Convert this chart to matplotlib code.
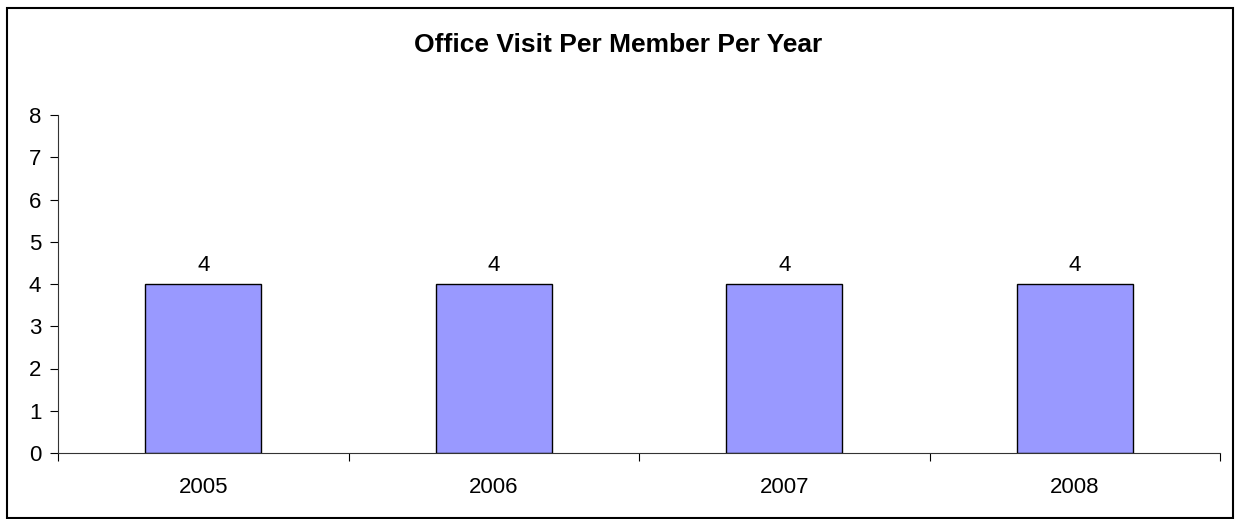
import numpy as np
import matplotlib.pyplot as plt
from matplotlib.patches import Rectangle

years = ['2005', '2006', '2007', '2008']
visits = [4, 4, 4, 4]

plt.rcParams['font.family'] = ['Liberation Sans', 'DejaVu Sans']

fig = plt.figure(figsize=(12.36, 5.19), dpi=100)
ax = fig.add_axes([58/1236, 1 - 453/519, (1220-58)/1236, (453-115)/519])

x = np.arange(len(years))
bars = ax.bar(x, visits, width=0.4, color='#9999FF', edgecolor='black', linewidth=1)

for b, v in zip(bars, visits):
    ax.text(b.get_x() + b.get_width()/2, v + 0.2, str(v), ha='center', va='bottom', fontsize=16)

ax.set_xlim(-0.5, len(years) - 0.5)
ax.set_ylim(0, 8)
ax.set_yticks(range(0, 9))
ax.tick_params(axis='y', labelsize=16, length=6, direction='out', pad=6)

# ticks on category boundaries, labels in the middle
ax.set_xticks(np.arange(-0.5, len(years)), minor=False)
ax.set_xticklabels([])
ax.set_xticks(x, minor=True)
ax.set_xticklabels(years, minor=True)
ax.tick_params(axis='x', which='major', length=6, direction='out')
ax.tick_params(axis='x', which='minor', length=0, labelsize=16, pad=17)

for s in ['top', 'right']:
    ax.spines[s].set_visible(False)
ax.spines['left'].set_color('#333333')
ax.spines['bottom'].set_color('#333333')

fig.text(0.5, 1 - 45/519, 'Office Visit Per Member Per Year', ha='center', va='center',
         fontsize=19, fontweight='bold')

fig.patches.append(Rectangle((7/1236, 1/519), 1226/1236, 1 - 9/519, transform=fig.transFigure,
                             fill=False, edgecolor='black', linewidth=1.5))

plt.savefig('out.png')
